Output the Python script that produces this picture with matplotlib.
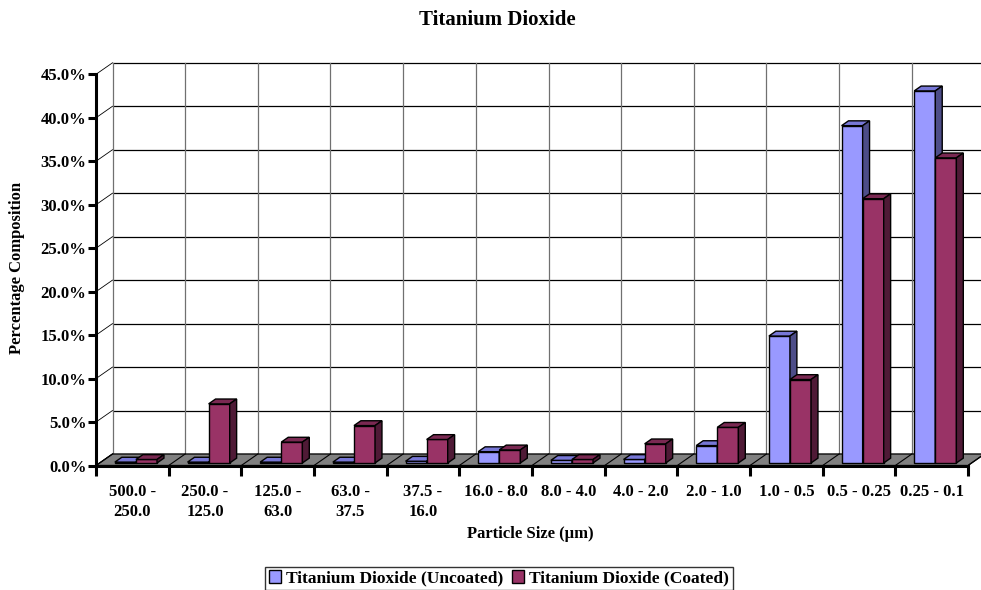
import matplotlib
matplotlib.use("Agg")
import matplotlib.pyplot as plt
from matplotlib.patches import Polygon, Patch
from matplotlib.ticker import FixedLocator, FuncFormatter

# ---- data -------------------------------------------------------------
categories = ["500.0 -\n250.0", "250.0 -\n125.0", "125.0 -\n63.0", "63.0 -\n37.5",
              "37.5 -\n16.0", "16.0 - 8.0", "8.0 - 4.0", "4.0 - 2.0",
              "2.0 - 1.0", "1.0 - 0.5", "0.5 - 0.25", "0.25 - 0.1"]
uncoated = [0.1, 0.1, 0.1, 0.1, 0.2, 1.3, 0.3, 0.4, 2.0, 14.6, 38.8, 42.8]
coated = [0.4, 6.8, 2.4, 4.3, 2.7, 1.5, 0.4, 2.2, 4.1, 9.6, 30.4, 35.1]
series_names = ["Titanium Dioxide (Uncoated)", "Titanium Dioxide (Coated)"]
y_ticks = [0, 5, 10, 15, 20, 25, 30, 35, 40, 45]

# ---- styling ----------------------------------------------------------
FONT = "Liberation Serif"
plt.rcParams["font.family"] = [FONT, "DejaVu Serif"]
plt.rcParams["font.weight"] = "bold"
FS = 12

face_colors = [("#9999FF", "#7777D6", "#4D4D88"),   # front, top, side
               ("#993366", "#7A2952", "#4F1A36")]

W, H = 981, 590
fig = plt.figure(figsize=(W / 100, H / 100), dpi=100)
fig.patch.set_facecolor("white")

x0_px, x1_px = 96, 968
y0_px, ytop_px = 465.5, 74.3
ax = fig.add_axes([x0_px / W, (H - y0_px) / H, (x1_px - x0_px) / W, (y0_px - ytop_px) / H])
n = len(categories)
ax.set_xlim(0, n)
ax.set_ylim(0, 45)
ax.patch.set_alpha(0)

# oblique depth of the floor / walls, in data units
px_x = (x1_px - x0_px) / n
px_y = (y0_px - ytop_px) / 45
DX = 16.5 / px_x
DY = 11.5 / px_y

# back wall gridlines
for v in y_ticks:
    ax.plot([DX, n + DX], [v + DY, v + DY], color="black", lw=0.9, clip_on=False, zorder=1)
    ax.plot([0, DX], [v, v + DY], color="black", lw=0.6, clip_on=False, zorder=1)
for k in range(0, n + 1):
    ax.plot([k + DX, k + DX], [DY, 45 + DY], color="#707070", lw=0.9, clip_on=False, zorder=1)

# floor
floor = Polygon([(0, 0), (n, 0), (n + DX, DY), (DX, DY)], closed=True,
                facecolor="#808080", edgecolor="black", lw=0.9, clip_on=False, zorder=2)
ax.add_patch(floor)
for k in range(0, n + 1):
    ax.plot([k, k + DX], [0, DY], color="black", lw=0.8, clip_on=False, zorder=2.1)

# bars: front face via ax.bar, top and side faces as depth polygons
bw = 0.29
f0, f1 = 0.22, 0.64
ox, oy = f0 * DX, f0 * DY
dx, dy = (f1 - f0) * DX, (f1 - f0) * DY
z = 3
for k in range(n):
    for s, vals in enumerate([uncoated, coated]):
        h = vals[k]
        front, top, side = face_colors[s]
        xl = k + 0.5 - bw + s * bw + ox
        ax.bar(xl, h, width=bw, bottom=oy, align="edge", color=front,
               edgecolor="black", lw=1.0, clip_on=False, zorder=z)
        yt = oy + h
        ax.add_patch(Polygon([(xl, yt), (xl + bw, yt), (xl + bw + dx, yt + dy), (xl + dx, yt + dy)],
                             closed=True, facecolor=top, edgecolor="black", lw=1.0,
                             clip_on=False, zorder=z))
        ax.add_patch(Polygon([(xl + bw, oy), (xl + bw, yt), (xl + bw + dx, yt + dy), (xl + bw + dx, oy + dy)],
                             closed=True, facecolor=side, edgecolor="black", lw=1.0,
                             clip_on=False, zorder=z))
        z += 0.1

# axes, ticks and labels
for sp in ["top", "right"]:
    ax.spines[sp].set_visible(False)
for sp in ["left", "bottom"]:
    ax.spines[sp].set_linewidth(2.2)
    ax.spines[sp].set_zorder(10)

ax.yaxis.set_major_locator(FixedLocator(y_ticks))
ax.yaxis.set_major_formatter(FuncFormatter(lambda v, p: f"{v:.1f}%"))
ax.tick_params(axis="y", direction="out", length=6, width=2.2, pad=1, labelsize=FS)

ax.xaxis.set_major_locator(FixedLocator(list(range(n + 1))))
ax.xaxis.set_minor_locator(FixedLocator([k + 0.5 for k in range(n)]))
ax.set_xticklabels([], minor=False)
ax.set_xticklabels(categories, minor=True, fontsize=FS, fontweight="bold", linespacing=1.35)
ax.tick_params(axis="x", which="major", direction="out", length=7, width=2.2)
ax.tick_params(axis="x", which="minor", length=0, pad=13)
for lab in ax.get_yticklabels() + ax.get_xticklabels(minor=True):
    lab.set_fontweight("bold")

fig.text(497 / W, 1 - 20 / H, "Titanium Dioxide", ha="center", va="center",
         fontsize=15, fontweight="bold")
fig.text(17 / W, 1 - 268 / H, "Percentage Composition", ha="center", va="center",
         rotation=90, fontsize=FS, fontweight="bold")
fig.text(530 / W, 1 - 534 / H, "Particle Size (\u00b5m)", ha="center", va="center",
         fontsize=FS, fontweight="bold")

handles = [Patch(facecolor=face_colors[i][0], edgecolor="black", lw=1.0) for i in range(2)]
leg = fig.legend(handles, series_names, loc="upper center", ncol=2,
                 bbox_to_anchor=(499 / W, 1 - 567 / H), frameon=True, fancybox=False,
                 edgecolor="black", handlelength=0.7, handleheight=0.7,
                 handletextpad=0.3, columnspacing=0.5, borderpad=0.2,
                 borderaxespad=0, prop={"size": 12.5, "weight": "bold"})
leg.get_frame().set_linewidth(1.0)

fig.savefig("out.png", dpi=100, facecolor="white")
